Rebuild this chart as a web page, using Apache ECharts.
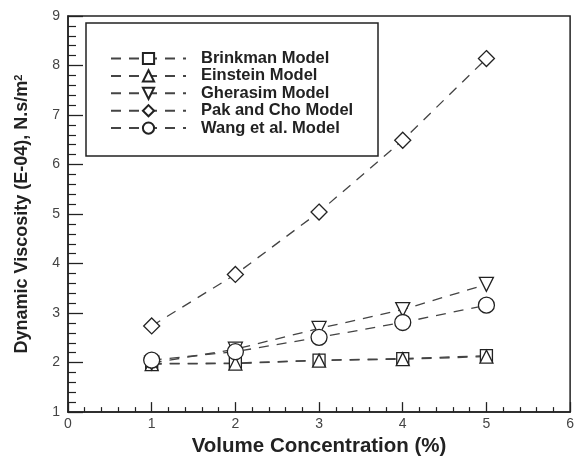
<!DOCTYPE html>
<html>
<head>
<meta charset="utf-8">
<script src="https://cdn.jsdelivr.net/npm/echarts@6/dist/echarts.min.js"></script>
<style>
html,body{margin:0;padding:0;background:#fff;}
#chart{width:577px;height:462px;}
</style>
</head>
<body>
<div id="chart"></div>
<script>
const concentrations = [1, 2, 3, 4, 5];
const brinkman = [1.98, 1.99, 2.05, 2.08, 2.14];
const einstein = [1.97, 1.98, 2.04, 2.07, 2.12];
const gherasim = [1.99, 2.27, 2.69, 3.07, 3.58];
const pakCho = [2.74, 3.78, 5.04, 6.49, 8.14];
const wang = [2.05, 2.22, 2.51, 2.81, 3.16];
const seriesNames = ['Brinkman Model', 'Einstein Model', 'Gherasim Model', 'Pak and Cho Model', 'Wang et al. Model'];
const xTicks = [0, 1, 2, 3, 4, 5, 6];
const yTicks = [1, 2, 3, 4, 5, 6, 7, 8, 9];

const FONT = "'Liberation Sans', Arial, sans-serif";
const toPairs = arr => concentrations.map((c, i) => [c, arr[i]]);

function mk(name, data, symbol, size, rot) {
  return {
    name: name,
    type: 'line',
    data: toPairs(data),
    symbol: symbol,
    symbolSize: size,
    symbolRotate: rot || 0,
    showAllSymbol: true,
    lineStyle: { color: '#444', width: 1.3, type: [10, 8] },
    itemStyle: { color: '#fff', borderColor: '#222', borderWidth: 1.3 },
    emphasis: { disabled: true },
    z: 3
  };
}

const chart = echarts.init(document.getElementById('chart'), null, { renderer: 'canvas' });
chart.setOption({
  animation: false,
  backgroundColor: '#fff',
  grid: { left: 68, right: 2, top: 16, bottom: 41, show: true, borderColor: '#222', borderWidth: 1.5, backgroundColor: 'transparent' },
  graphic: [{
    type: 'rect',
    shape: { x: 86, y: 23, width: 292, height: 133 },
    style: { fill: 'transparent', stroke: '#222', lineWidth: 1.5 },
    z: 10
  }],
  legend: {
    orient: 'vertical',
    left: 86,
    top: 23,
    padding: [27, 20, 20, 24],
    itemWidth: 75,
    itemHeight: 14,
    itemGap: 0.4,
    data: seriesNames,
    textStyle: { fontFamily: FONT, fontWeight: 'bold', fontSize: 16.5, color: '#222', padding: [0, 0, 0, 10] },
    selectedMode: false,
    z: 11
  },
  xAxis: {
    type: 'value',
    min: 0, max: 6, interval: 1,
    axisLine: { show: true, lineStyle: { color: '#222', width: 1.5 } },
    axisTick: { show: true, inside: true, length: 10, lineStyle: { color: '#222', width: 1.3 } },
    minorTick: { show: true, splitNumber: 5, length: 5, lineStyle: { color: '#222', width: 1.2 } },
    splitLine: { show: false },
    axisLabel: { fontFamily: FONT, fontSize: 14, color: '#444', margin: 5, formatter: v => xTicks.includes(v) ? String(v) : '' },
    name: 'Volume Concentration (%)',
    nameLocation: 'middle',
    nameGap: 16,
    nameTextStyle: { fontFamily: FONT, fontWeight: 'bold', fontSize: 20.5, color: '#222', verticalAlign: 'top' }
  },
  yAxis: {
    type: 'value',
    min: 1, max: 9, interval: 1,
    axisLine: { show: true, lineStyle: { color: '#222', width: 1.5 } },
    axisTick: { show: true, inside: true, length: 15, lineStyle: { color: '#222', width: 1.3 } },
    minorTick: { show: true, splitNumber: 5, length: 8, lineStyle: { color: '#222', width: 1.2 } },
    splitLine: { show: false },
    axisLabel: { fontFamily: FONT, fontSize: 14, color: '#444', margin: 8, formatter: v => yTicks.includes(v) ? String(v) : '' },
    name: 'Dynamic Viscosity (E-04), N.s/m{sup|2}',
    nameLocation: 'middle',
    nameGap: 37,
    nameTextStyle: {
      fontFamily: FONT, fontWeight: 'bold', fontSize: 18, color: '#222',
      rich: { sup: { fontFamily: FONT, fontWeight: 'bold', fontSize: 11, color: '#222', verticalAlign: 'top', padding: [0, 0, 7, 0] } }
    }
  },
  series: [
    mk(seriesNames[0], brinkman, 'rect', 12),
    mk(seriesNames[1], einstein, 'triangle', 13),
    mk(seriesNames[2], gherasim, 'triangle', 14, 180),
    mk(seriesNames[3], pakCho, 'diamond', 16),
    mk(seriesNames[4], wang, 'circle', 16)
  ]
});
</script>
</body>
</html>
